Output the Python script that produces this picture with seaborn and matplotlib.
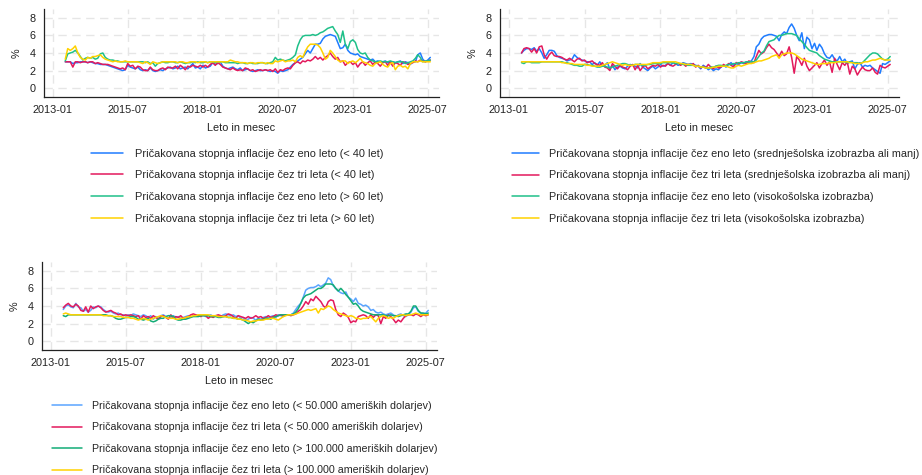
import numpy as np
import pandas as pd
import matplotlib
matplotlib.use("Agg")
import matplotlib.pyplot as plt
import matplotlib.dates as mdates
import seaborn as sns

# ---------------- data ----------------
start_month = "2013-06"
end_month = "2025-08"
tick_labels = ["2013-01", "2015-07", "2018-01", "2020-07", "2023-01", "2025-07"]
y_ticks = [0, 2, 4, 6, 8]
x_label = "Leto in mesec"
y_label = "%"

age_labels = [
    "Pričakovana stopnja inflacije čez eno leto (< 40 let)",
    "Pričakovana stopnja inflacije čez tri leta (< 40 let)",
    "Pričakovana stopnja inflacije čez eno leto (> 60 let)",
    "Pričakovana stopnja inflacije čez tri leta (> 60 let)",
]
edu_labels = [
    "Pričakovana stopnja inflacije čez eno leto (srednješolska izobrazba ali manj)",
    "Pričakovana stopnja inflacije čez tri leta (srednješolska izobrazba ali manj)",
    "Pričakovana stopnja inflacije čez eno leto (visokošolska izobrazba)",
    "Pričakovana stopnja inflacije čez tri leta (visokošolska izobrazba)",
]
inc_labels = [
    "Pričakovana stopnja inflacije čez eno leto (< 50.000 ameriških dolarjev)",
    "Pričakovana stopnja inflacije čez tri leta (< 50.000 ameriških dolarjev)",
    "Pričakovana stopnja inflacije čez eno leto (> 100.000 ameriških dolarjev)",
    "Pričakovana stopnja inflacije čez tri leta (> 100.000 ameriških dolarjev)",
]

# Panel 1: age
age_1y_lt40 = [
    3.0, 3.0, 3.0, 2.8, 2.9, 2.9, 3.0,
    3.0, 3.0, 2.9, 3.0, 2.9, 2.8, 2.8, 2.7, 2.7, 2.7, 2.6, 2.5,
    2.4, 2.3, 2.2, 2.1, 2.0, 2.1, 2.6, 2.4, 2.3, 2.2, 2.4, 2.1,
    2.0, 2.1, 2.0, 2.3, 2.0, 1.9, 2.0, 2.1, 2.0, 2.2, 2.3, 2.4,
    2.2, 2.3, 2.5, 2.2, 2.3, 2.4, 2.2, 2.5, 2.8, 2.3, 2.4, 2.2,
    2.6, 2.3, 2.4, 2.5, 2.9, 2.7, 2.8, 3.0, 2.5, 2.3, 2.2, 2.3,
    2.4, 2.2, 2.1, 2.3, 2.0, 2.1, 2.2, 2.0, 1.9, 2.0, 2.1, 2.0,
    2.0, 2.1, 2.0, 1.9, 2.0, 1.9, 1.7, 2.0, 1.9, 2.0, 2.1, 2.4,
    2.7, 2.9, 3.1, 3.3, 3.5, 3.9, 4.3, 4.0, 4.5, 5.0, 5.0, 5.1,
    5.6, 5.9, 6.0, 6.1, 6.0, 5.9, 5.2, 4.5, 4.6, 5.0, 4.3, 4.0,
    3.9, 3.8, 3.9, 3.6, 3.5, 3.4, 3.3, 3.2, 3.3, 3.0, 3.1, 3.0,
    3.0, 3.1, 2.9, 3.0, 3.0, 2.9, 3.0, 3.1, 2.8, 3.0, 2.9, 2.7,
    3.0, 3.0, 3.8, 4.0, 3.3, 3.0, 3.2, 3.5,
]
age_3y_lt40 = [
    3.0, 3.0, 3.0, 2.4, 3.0, 3.0, 2.9,
    3.0, 3.0, 2.9, 3.0, 3.0, 2.8, 2.9, 2.8, 2.7, 2.7, 2.7, 2.6,
    2.5, 2.4, 2.3, 2.2, 2.3, 2.1, 2.8, 2.5, 2.6, 2.2, 2.5, 2.4,
    2.1, 2.0, 2.0, 2.4, 2.1, 2.0, 2.0, 2.2, 2.3, 2.1, 2.4, 2.3,
    2.3, 2.5, 2.2, 2.6, 2.4, 2.1, 2.5, 2.4, 2.6, 2.5, 2.4, 2.6,
    2.4, 2.6, 2.4, 2.7, 2.9, 2.6, 2.9, 2.7, 2.4, 2.3, 2.2, 2.1,
    2.3, 2.1, 2.0, 2.1, 2.0, 2.3, 2.2, 2.0, 2.1, 1.9, 2.0, 2.1,
    2.0, 2.1, 2.0, 2.1, 1.9, 2.2, 1.8, 2.1, 2.0, 2.2, 2.3, 2.2,
    2.6, 2.9, 3.0, 2.8, 3.1, 3.0, 3.2, 3.1, 3.3, 3.6, 3.3, 3.5,
    3.2, 3.5, 3.7, 4.0, 3.6, 3.3, 3.5, 3.0, 3.1, 2.6, 2.9, 3.0,
    2.7, 2.9, 2.4, 2.8, 3.0, 2.6, 2.9, 3.1, 2.7, 3.0, 2.8, 2.5,
    2.9, 3.0, 2.6, 3.0, 2.5, 2.9, 2.8, 2.6, 3.0, 2.9, 2.7, 2.8,
    2.9, 3.1, 3.0, 3.2, 3.1, 3.0, 3.1, 3.2,
]
age_1y_gt60 = [
    3.1, 3.9, 4.0, 4.1, 4.3, 4.0, 3.6,
    3.2, 3.4, 3.5, 3.4, 3.5, 3.3, 3.4, 3.9, 4.0, 3.5, 3.3, 3.2,
    3.2, 3.1, 3.1, 3.0, 3.0, 3.0, 3.0, 3.0, 3.0, 3.0, 3.0, 3.0,
    3.0, 2.9, 3.0, 2.8, 2.9, 2.5, 2.8, 2.9, 3.0, 2.9, 2.9, 3.0,
    3.0, 2.9, 2.9, 3.0, 2.9, 2.8, 2.9, 2.9, 3.0, 2.9, 3.0, 2.9,
    2.9, 3.0, 2.9, 3.0, 3.0, 2.9, 3.0, 3.0, 3.0, 2.9, 2.9, 2.9,
    2.9, 2.9, 2.8, 2.9, 2.9, 2.8, 2.8, 2.9, 2.8, 2.8, 2.8, 2.9,
    2.9, 2.8, 2.8, 2.9, 3.0, 3.5, 3.2, 3.3, 3.2, 3.1, 3.2, 3.3,
    3.5, 3.8, 4.8, 5.5, 5.9, 6.0, 6.0, 6.0, 6.1, 6.0, 6.1, 6.3,
    6.4, 6.6, 6.8, 6.9, 7.0, 6.5, 6.1, 5.2, 6.5, 5.0, 4.5, 5.3,
    5.5, 5.2, 4.4, 4.0, 3.9, 4.0, 3.5, 3.2, 3.1, 3.0, 3.0, 3.1,
    3.0, 3.0, 3.0, 3.1, 3.0, 2.9, 3.0, 3.0, 3.0, 2.8, 2.9, 3.0,
    3.1, 3.4, 3.8, 3.5, 3.0, 3.1, 3.1, 3.2,
]
age_3y_gt60 = [
    3.3, 4.5, 4.3, 4.5, 4.8, 4.0, 3.5,
    3.3, 3.2, 3.5, 3.4, 3.6, 3.6, 3.7, 3.8, 3.5, 3.3, 3.2, 3.1,
    3.0, 3.1, 3.0, 3.0, 3.0, 3.1, 3.0, 3.0, 3.0, 3.0, 3.0, 2.9,
    2.8, 3.0, 2.9, 2.7, 3.0, 2.9, 2.8, 2.9, 3.0, 3.0, 3.0, 3.0,
    3.0, 3.0, 2.9, 3.0, 3.0, 2.9, 2.9, 3.0, 3.0, 3.0, 2.9, 3.0,
    3.0, 3.0, 2.9, 3.0, 3.0, 3.0, 3.0, 3.0, 3.0, 3.0, 3.0, 3.2,
    3.1, 3.0, 3.0, 2.9, 2.9, 2.9, 2.8, 2.9, 2.9, 2.8, 2.9, 2.9,
    2.9, 2.8, 2.9, 2.8, 2.8, 3.1, 3.0, 3.1, 3.2, 3.0, 3.1, 3.1,
    3.2, 3.0, 3.5, 3.7, 3.5, 4.2, 4.7, 5.0, 5.0, 5.0, 4.9, 4.6,
    4.0, 3.3, 3.5, 4.3, 4.0, 3.6, 3.2, 3.0, 3.1, 3.1, 2.8, 3.0,
    3.1, 2.9, 3.1, 3.4, 3.0, 2.9, 2.8, 2.6, 2.5, 2.8, 2.9, 3.0,
    2.7, 2.5, 2.4, 2.8, 2.9, 2.1, 2.5, 2.6, 2.4, 2.5, 2.2, 2.8,
    3.0, 3.0, 3.0, 3.1, 3.0, 3.0, 3.0, 3.0,
]

# Panel 2: education
edu_1y_hs = [
    4.0, 4.3, 4.5, 4.5, 4.4, 4.6, 4.2,
    4.5, 4.0, 3.4, 3.8, 4.3, 4.3, 4.2, 3.7, 3.5, 3.4, 3.3, 3.1,
    3.2, 3.3, 3.8, 3.5, 3.3, 3.2, 3.1, 3.0, 3.0, 2.7, 2.9, 2.6,
    3.0, 2.5, 2.6, 2.9, 2.2, 2.6, 2.1, 2.4, 2.5, 2.3, 2.2, 2.5,
    2.7, 2.6, 2.5, 2.3, 2.8, 2.4, 2.2, 2.0, 2.3, 2.5, 2.2, 2.4,
    2.7, 2.5, 2.6, 2.8, 2.6, 2.9, 2.8, 2.6, 2.7, 2.9, 2.8, 2.7,
    2.8, 2.7, 2.6, 2.5, 2.2, 2.6, 2.4, 2.1, 2.3, 2.0, 2.2, 2.1,
    2.4, 2.6, 2.4, 2.7, 2.9, 2.6, 2.8, 2.7, 2.9, 2.8, 3.0, 2.9,
    3.1, 3.6, 4.7, 5.0, 5.6, 5.9, 6.0, 6.1, 6.1, 6.0, 5.9, 5.4,
    6.1, 6.4, 6.2, 6.9, 7.3, 6.8, 6.0, 5.4, 6.3, 4.5, 5.8, 5.5,
    4.5, 5.1, 4.3, 5.0, 4.6, 3.9, 3.5, 3.4, 3.8, 3.3, 3.1, 3.6,
    3.0, 3.3, 2.8, 3.0, 3.1, 2.2, 2.7, 2.9, 2.4, 2.6, 2.5, 2.6,
    2.3, 2.1, 1.9, 1.7, 2.8, 2.7, 2.9, 3.1,
]
edu_3y_hs = [
    4.0, 4.5, 4.6, 4.5, 4.1, 4.5, 4.0,
    4.7, 4.8, 3.8, 3.3, 3.8, 4.1, 3.7, 3.6, 3.6, 3.5, 3.3, 3.2,
    3.4, 3.2, 3.0, 3.3, 3.4, 3.1, 3.2, 2.9, 3.0, 3.1, 2.8, 2.7,
    2.6, 2.9, 2.4, 2.3, 2.0, 2.8, 2.5, 2.2, 2.6, 2.4, 2.3, 2.1,
    2.5, 2.7, 2.1, 2.6, 2.0, 2.4, 2.6, 2.2, 2.4, 2.6, 2.5, 2.7,
    2.4, 2.6, 2.5, 2.8, 2.6, 2.5, 2.7, 2.9, 2.6, 2.8, 2.5, 2.7,
    2.6, 2.8, 2.4, 2.6, 2.3, 2.5, 2.3, 2.7, 2.4, 2.2, 2.5, 2.3,
    2.4, 2.7, 2.5, 2.8, 2.6, 2.4, 2.9, 2.8, 3.0, 2.9, 2.8, 3.1,
    3.0, 2.9, 3.6, 4.3, 3.9, 4.1, 4.6, 5.0, 4.6, 4.4, 4.0, 3.6,
    4.2, 3.7, 3.9, 4.7, 3.5, 1.7, 3.6, 3.2, 2.6, 3.4, 2.5, 2.0,
    2.3, 2.6, 2.9, 2.3, 2.8, 3.2, 2.6, 3.0, 1.8, 3.4, 2.7, 2.1,
    2.9, 2.6, 3.0, 1.6, 2.5, 2.2, 1.5, 2.0, 2.4, 2.1, 2.0, 2.0,
    2.3, 1.8, 1.6, 2.6, 2.4, 2.3, 2.5, 2.7,
]
edu_1y_col = [
    2.9, 2.8, 3.0, 3.0, 2.9, 2.9, 2.9,
    2.9, 3.0, 3.0, 3.0, 3.0, 3.0, 3.0, 3.0, 3.0, 3.0, 2.9, 2.9,
    2.8, 2.7, 2.6, 2.6, 2.5, 2.5, 2.7, 2.7, 2.6, 2.6, 2.5, 2.4,
    2.4, 2.5, 2.5, 2.4, 2.3, 2.4, 2.5, 2.6, 2.7, 2.8, 2.8, 2.7,
    2.6, 2.6, 2.7, 2.7, 2.7, 2.6, 2.6, 2.7, 2.7, 2.8, 2.8, 2.8,
    2.8, 2.9, 2.9, 2.9, 2.9, 2.9, 2.8, 2.8, 2.8, 2.7, 2.7, 2.6,
    2.6, 2.6, 2.5, 2.5, 2.4, 2.4, 2.3, 2.3, 2.4, 2.4, 2.5, 2.6,
    2.6, 2.5, 2.6, 2.7, 2.7, 2.8, 2.8, 2.9, 2.9, 2.9, 3.0, 3.0,
    3.0, 3.0, 3.2, 3.6, 4.0, 4.2, 4.8, 5.3, 5.4, 5.5, 5.8, 6.0,
    6.0, 6.1, 6.2, 6.2, 6.2, 6.1, 6.0, 5.6, 5.3, 5.0, 4.6, 4.3,
    4.2, 4.1, 4.0, 3.7, 3.5, 3.3, 3.2, 3.1, 3.0, 3.0, 3.0, 3.0,
    3.0, 3.0, 2.9, 3.0, 2.9, 2.9, 2.9, 2.8, 2.9, 3.2, 3.5, 3.8,
    4.0, 4.0, 3.9, 3.6, 3.3, 3.2, 3.3, 3.6,
]
edu_3y_col = [
    3.0, 3.0, 3.0, 3.0, 3.0, 3.0, 3.0,
    3.0, 3.0, 3.0, 3.0, 3.0, 3.0, 3.0, 3.0, 3.0, 2.9, 2.9, 2.8,
    2.8, 2.8, 2.7, 2.7, 2.7, 2.7, 2.7, 2.6, 2.6, 2.5, 2.5, 2.5,
    2.5, 2.6, 2.7, 2.8, 2.9, 3.0, 2.9, 2.8, 2.7, 2.6, 2.7, 2.6,
    2.6, 2.6, 2.7, 2.7, 2.7, 2.7, 2.7, 2.7, 2.8, 2.9, 2.9, 2.9,
    2.9, 3.0, 3.0, 3.0, 3.0, 3.0, 3.0, 2.9, 2.8, 2.8, 2.7, 2.7,
    2.7, 2.6, 2.5, 2.5, 2.4, 2.4, 2.3, 2.3, 2.3, 2.4, 2.4, 2.5,
    2.5, 2.5, 2.5, 2.4, 2.3, 2.3, 2.5, 2.6, 2.5, 2.6, 2.7, 2.8,
    2.8, 2.9, 3.0, 3.1, 3.1, 3.2, 3.3, 3.4, 3.6, 3.7, 3.8, 3.4,
    3.8, 3.9, 4.0, 4.0, 4.0, 3.9, 3.7, 3.5, 3.3, 3.2, 3.1, 3.0,
    2.9, 2.8, 2.7, 2.7, 2.8, 2.8, 2.8, 2.9, 2.9, 2.9, 3.0, 3.0,
    3.0, 3.0, 3.0, 2.9, 2.9, 2.8, 2.8, 2.8, 2.9, 3.0, 3.0, 3.1,
    3.2, 3.2, 3.3, 3.4, 3.3, 3.2, 3.2, 3.2,
]

# Panel 3: income
inc_1y_lt50 = [
    3.6, 4.0, 4.1, 3.9, 3.8, 4.3, 3.9,
    3.8, 3.4, 3.6, 3.3, 3.5, 3.9, 3.8, 4.0, 3.9, 3.6, 3.4, 3.3,
    3.4, 3.2, 3.1, 3.2, 3.0, 3.0, 2.9, 3.0, 2.9, 3.1, 3.0, 2.9,
    2.8, 3.0, 2.9, 2.7, 2.9, 2.5, 2.8, 2.6, 2.9, 3.0, 2.8, 2.6,
    2.7, 2.9, 2.7, 2.8, 2.6, 2.7, 2.8, 2.9, 2.8, 2.9, 3.0, 2.9,
    3.0, 2.9, 2.8, 2.9, 3.0, 2.8, 2.9, 2.9, 2.8, 3.0, 3.1, 3.0,
    2.9, 3.0, 2.8, 2.9, 2.6, 2.7, 2.4, 2.5, 2.7, 2.6, 2.4, 2.6,
    2.5, 2.7, 2.8, 2.6, 2.8, 2.9, 2.7, 3.0, 2.9, 2.8, 3.0, 3.0,
    3.0, 3.2, 3.6, 4.0, 4.3, 5.0, 5.8, 6.0, 6.1, 6.1, 6.2, 6.4,
    6.2, 6.4, 6.6, 7.2, 7.0, 6.3, 6.0, 5.7, 5.5, 5.4, 5.6, 5.0,
    4.8, 4.5, 4.9, 4.3, 4.2, 4.0, 4.1, 3.9, 3.5, 3.6, 3.3, 3.2,
    3.3, 3.1, 3.0, 3.1, 3.2, 3.0, 2.8, 3.0, 3.1, 2.9, 2.8, 3.0,
    3.3, 3.8, 3.9, 3.4, 3.2, 3.1, 3.2, 3.5,
]
inc_3y_lt50 = [
    3.8, 4.1, 4.3, 4.0, 3.9, 4.2, 4.0,
    3.5, 3.4, 3.9, 3.3, 4.0, 3.7, 3.9, 4.0, 3.8, 3.5, 3.3, 3.4,
    3.5, 3.3, 3.2, 3.0, 3.1, 2.9, 3.0, 2.9, 3.0, 2.9, 2.8, 2.9,
    2.5, 2.9, 2.7, 2.8, 2.6, 2.9, 2.7, 2.5, 2.8, 2.9, 2.7, 2.5,
    3.0, 2.6, 2.8, 2.7, 2.9, 2.6, 2.7, 2.8, 3.0, 3.1, 3.0, 2.9,
    2.8, 3.0, 2.9, 2.6, 2.8, 2.7, 2.9, 3.0, 2.9, 2.8, 2.9, 3.1,
    3.0, 2.8, 2.6, 2.9, 2.8, 2.7, 2.6, 2.8, 2.6, 2.7, 2.9, 2.7,
    2.8, 2.6, 2.7, 2.9, 2.7, 2.8, 3.0, 2.9, 3.0, 2.9, 3.0, 3.0,
    2.9, 3.0, 3.1, 3.4, 3.6, 4.0, 4.5, 4.2, 4.8, 4.6, 5.1, 4.8,
    4.5, 4.0, 3.8, 4.5, 4.7, 4.6, 3.6, 3.0, 2.8, 3.2, 3.0, 2.7,
    2.1, 2.3, 2.2, 2.8, 2.9, 3.0, 2.9, 2.6, 3.0, 2.7, 3.0, 2.9,
    2.0, 2.8, 2.6, 3.0, 2.8, 2.5, 2.1, 2.4, 2.2, 2.6, 2.9, 3.0,
    3.0, 2.9, 3.1, 3.0, 2.8, 3.0, 2.9, 3.0,
]
inc_1y_gt100 = [
    2.9, 2.8, 3.0, 3.0, 3.0, 3.0, 3.0,
    3.0, 3.0, 3.0, 3.0, 3.0, 3.0, 3.0, 3.0, 3.0, 3.0, 3.0, 2.9,
    2.9, 2.8, 2.6, 2.5, 2.5, 2.6, 2.7, 2.7, 2.8, 2.8, 2.7, 2.5,
    2.5, 2.4, 2.5, 2.6, 2.3, 2.2, 2.3, 2.5, 2.6, 2.6, 2.8, 2.9,
    2.9, 2.8, 2.5, 2.4, 2.4, 2.5, 2.5, 2.6, 2.7, 2.8, 2.8, 2.8,
    2.9, 2.9, 2.9, 2.9, 2.8, 2.8, 2.8, 2.7, 2.7, 2.8, 2.8, 2.7,
    2.7, 2.6, 2.6, 2.5, 2.5, 2.4, 2.2, 2.0, 2.2, 2.1, 2.3, 2.5,
    2.4, 2.5, 2.6, 2.6, 2.5, 2.7, 2.8, 2.9, 3.0, 3.0, 3.0, 3.0,
    3.0, 3.1, 3.3, 3.7, 4.3, 4.9, 5.2, 5.3, 5.4, 5.6, 5.8, 6.0,
    6.0, 6.2, 6.5, 6.5, 6.5, 6.4, 6.0, 5.7, 6.0, 5.7, 5.3, 5.0,
    4.6, 4.2, 4.3, 4.0, 3.6, 3.4, 3.3, 3.2, 3.1, 3.0, 3.0, 3.0,
    3.0, 3.0, 2.9, 2.9, 3.0, 2.9, 2.9, 2.8, 2.9, 3.0, 3.1, 3.1,
    3.4, 4.0, 4.0, 3.5, 3.2, 3.2, 3.1, 3.2,
]
inc_3y_gt100 = [
    3.1, 3.2, 3.1, 3.0, 3.0, 3.0, 3.0,
    3.0, 3.0, 3.0, 3.0, 3.0, 3.0, 3.0, 3.0, 3.0, 2.9, 2.9, 2.9,
    2.9, 2.8, 2.8, 2.8, 2.8, 2.7, 2.7, 2.7, 2.6, 2.6, 2.5, 2.4,
    2.5, 2.6, 2.5, 2.4, 2.5, 2.6, 2.7, 2.8, 2.9, 2.8, 2.7, 2.6,
    2.6, 2.6, 2.5, 2.5, 2.6, 2.6, 2.7, 2.8, 2.8, 2.9, 2.9, 3.0,
    3.0, 3.0, 3.0, 3.0, 2.9, 2.9, 2.9, 2.8, 2.8, 2.8, 2.8, 2.7,
    2.7, 2.6, 2.6, 2.5, 2.5, 2.4, 2.4, 2.3, 2.2, 2.3, 2.3, 2.4,
    2.4, 2.4, 2.5, 2.5, 2.6, 2.6, 2.5, 2.4, 2.6, 2.8, 2.9, 3.0,
    3.0, 3.0, 3.1, 3.2, 3.3, 3.4, 3.5, 3.6, 3.5, 3.6, 3.7, 3.2,
    3.7, 3.6, 3.8, 4.0, 3.9, 3.6, 3.4, 3.2, 3.1, 3.0, 2.9, 2.8,
    2.9, 2.8, 2.6, 2.6, 2.5, 2.6, 2.6, 2.7, 2.8, 2.5, 2.2, 2.6,
    2.8, 2.9, 2.8, 2.6, 2.7, 2.6, 2.8, 2.9, 3.0, 3.0, 2.9, 3.0,
    3.0, 3.1, 3.2, 3.1, 3.0, 3.0, 3.0, 3.0,
]

colors_12 = ["#1f7cff", "#e3195c", "#1fc089", "#ffd200"]
colors_3 = ["#5aa4ff", "#e3195c", "#12ac76", "#ffd200"]

# ---------------- figure ----------------
sns.set_style("white")
plt.rcParams["font.family"] = ["Liberation Sans", "DejaVu Sans"]

W, H = 922, 475
fig = plt.figure(figsize=(W / 100, H / 100), dpi=100)

months = pd.date_range(start_month, end_month, freq="MS")
tick_dates = pd.to_datetime(tick_labels)
xlim = (pd.Timestamp("2012-09-15"), pd.Timestamp("2025-11-15"))


def px_rect(l, t, r, b):
    return [l / W, 1 - b / H, (r - l) / W, (b - t) / H]


def panel(rect, labels, series, colors, leg_x, first_row_y, fs,
          handle_px, pad_px, row_px=21.3):
    ax = fig.add_axes(rect)
    frames = []
    for lab, vals in zip(labels, series):
        assert len(vals) == len(months), (lab, len(vals))
        frames.append(pd.DataFrame({"date": months, "value": vals, "series": lab}))
    df = pd.concat(frames, ignore_index=True)
    sns.lineplot(data=df, x="date", y="value", hue="series", hue_order=labels,
                 palette=colors, linewidth=1.1, ax=ax, legend=False)
    ax.set_xlim(*xlim)
    ax.set_ylim(-1, 9)
    ax.set_xticks(tick_dates)
    ax.xaxis.set_major_formatter(mdates.DateFormatter("%Y-%m"))
    ax.set_yticks(y_ticks)
    ax.grid(True, color="#e6e6e6", linestyle=(0, (6, 4)), linewidth=1.0)
    ax.set_axisbelow(True)
    for s in ["top", "right"]:
        ax.spines[s].set_visible(False)
    for s in ["left", "bottom"]:
        ax.spines[s].set_color("#222222")
        ax.spines[s].set_linewidth(0.9)
    ax.tick_params(axis="both", direction="out", length=4, width=0.8,
                   color="#222222", labelsize=7.8, labelcolor="#222222", pad=2)
    ax.set_xlabel(x_label, fontsize=7.8, color="#222222", labelpad=5.5)
    ax.set_ylabel(y_label, fontsize=7.8, color="#222222", labelpad=6)
    handles = ax.get_lines()[:4]
    fpx = fs * 100 / 72
    top = first_row_y - 0.4 * fpx
    fig.legend(handles, labels, loc="upper left",
               bbox_to_anchor=(leg_x / W, 1 - top / H),
               bbox_transform=fig.transFigure, frameon=False, borderpad=0,
               borderaxespad=0, handlelength=handle_px / fpx,
               handletextpad=pad_px / fpx,
               labelspacing=row_px / fpx - 0.88, fontsize=fs)
    return ax


panel(px_rect(44, 9, 439, 97), age_labels,
      [age_1y_lt40, age_3y_lt40, age_1y_gt60, age_3y_gt60], colors_12,
      91, 153, 7.9, 32, 12)
panel(px_rect(500, 9, 899, 97), edu_labels,
      [edu_1y_hs, edu_3y_hs, edu_1y_col, edu_3y_col], colors_12,
      512, 153, 7.85, 27, 10)
panel(px_rect(42, 262, 437, 350), inc_labels,
      [inc_1y_lt50, inc_3y_lt50, inc_1y_gt100, inc_3y_gt100], colors_3,
      52, 405, 7.7, 30, 10, row_px=21.0)

fig.savefig("out.png", dpi=100)
